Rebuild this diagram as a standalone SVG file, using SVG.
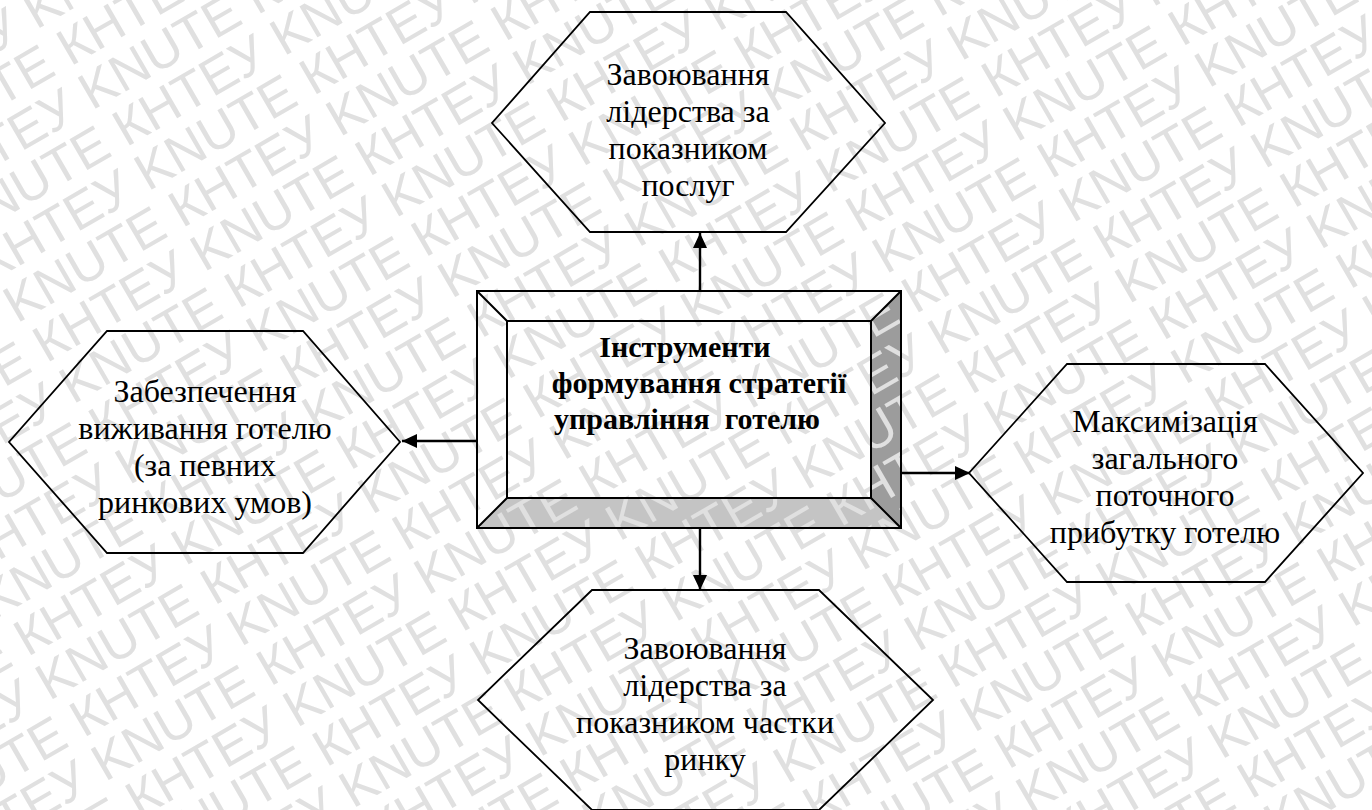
<svg xmlns="http://www.w3.org/2000/svg" width="1372" height="810" viewBox="0 0 1372 810">
<style>
.wm{font-family:"Liberation Sans",Arial,sans-serif;font-size:52px;fill:#e0e0e0}
.hex{fill:none;stroke:#000;stroke-width:1.8}
.t{font-family:"Liberation Serif","Times New Roman",serif;font-size:32px;fill:#000;text-anchor:middle}
.tb{font-family:"Liberation Serif","Times New Roman",serif;font-size:30px;font-weight:bold;fill:#000;text-anchor:middle}
.edge{stroke:#000;stroke-width:2.4;fill:none;marker-end:url(#ah)}
.bx{stroke:#000;stroke-width:2;stroke-linejoin:miter}
</style>
<defs>
<marker id="ah" markerUnits="userSpaceOnUse" markerWidth="16" markerHeight="14" refX="15" refY="7" orient="auto">
<path d="M0,0 L15,7 L0,14 Z" fill="#000"/>
</marker>
</defs>
<rect x="0" y="0" width="1372" height="810" fill="#fff"/>
<g id="center-bevel-fill">
<polygon points="901,291 901,528 871,498 871,321" fill="#9c9c9c"/>
<polygon points="477,528 901,528 871,498 507,498" fill="#c4c4c4"/>
</g>
<g id="watermark" transform="rotate(-30)">
<text class="wm" x="-916" y="-5">KNUTE КНТЕУ KNUTE КНТЕУ KNUTE КНТЕУ KNUTE КНТЕУ KNUTE КНТЕУ KNUTE КНТЕУ KNUTE КНТЕУ</text>
<text class="wm" x="-1101" y="44">KNUTE КНТЕУ KNUTE КНТЕУ KNUTE КНТЕУ KNUTE КНТЕУ KNUTE КНТЕУ KNUTE КНТЕУ KNUTE КНТЕУ</text>
<text class="wm" x="-908" y="93">KNUTE КНТЕУ KNUTE КНТЕУ KNUTE КНТЕУ KNUTE КНТЕУ KNUTE КНТЕУ KNUTE КНТЕУ KNUTE КНТЕУ</text>
<text class="wm" x="-1093" y="142">KNUTE КНТЕУ KNUTE КНТЕУ KNUTE КНТЕУ KNUTE КНТЕУ KNUTE КНТЕУ KNUTE КНТЕУ KNUTE КНТЕУ</text>
<text class="wm" x="-900" y="191">KNUTE КНТЕУ KNUTE КНТЕУ KNUTE КНТЕУ KNUTE КНТЕУ KNUTE КНТЕУ KNUTE КНТЕУ KNUTE КНТЕУ</text>
<text class="wm" x="-1085" y="240">KNUTE КНТЕУ KNUTE КНТЕУ KNUTE КНТЕУ KNUTE КНТЕУ KNUTE КНТЕУ KNUTE КНТЕУ KNUTE КНТЕУ</text>
<text class="wm" x="-892" y="289">KNUTE КНТЕУ KNUTE КНТЕУ KNUTE КНТЕУ KNUTE КНТЕУ KNUTE КНТЕУ KNUTE КНТЕУ KNUTE КНТЕУ</text>
<text class="wm" x="-1077" y="338">KNUTE КНТЕУ KNUTE КНТЕУ KNUTE КНТЕУ KNUTE КНТЕУ KNUTE КНТЕУ KNUTE КНТЕУ KNUTE КНТЕУ</text>
<text class="wm" x="-884" y="387">KNUTE КНТЕУ KNUTE КНТЕУ KNUTE КНТЕУ KNUTE КНТЕУ KNUTE КНТЕУ KNUTE КНТЕУ KNUTE КНТЕУ</text>
<text class="wm" x="-1069" y="436">KNUTE КНТЕУ KNUTE КНТЕУ KNUTE КНТЕУ KNUTE КНТЕУ KNUTE КНТЕУ KNUTE КНТЕУ KNUTE КНТЕУ</text>
<text class="wm" x="-876" y="485">KNUTE КНТЕУ KNUTE КНТЕУ KNUTE КНТЕУ KNUTE КНТЕУ KNUTE КНТЕУ KNUTE КНТЕУ KNUTE КНТЕУ</text>
<text class="wm" x="-1061" y="534">KNUTE КНТЕУ KNUTE КНТЕУ KNUTE КНТЕУ KNUTE КНТЕУ KNUTE КНТЕУ KNUTE КНТЕУ KNUTE КНТЕУ</text>
<text class="wm" x="-868" y="583">KNUTE КНТЕУ KNUTE КНТЕУ KNUTE КНТЕУ KNUTE КНТЕУ KNUTE КНТЕУ KNUTE КНТЕУ KNUTE КНТЕУ</text>
<text class="wm" x="-1053" y="632">KNUTE КНТЕУ KNUTE КНТЕУ KNUTE КНТЕУ KNUTE КНТЕУ KNUTE КНТЕУ KNUTE КНТЕУ KNUTE КНТЕУ</text>
<text class="wm" x="-860" y="681">KNUTE КНТЕУ KNUTE КНТЕУ KNUTE КНТЕУ KNUTE КНТЕУ KNUTE КНТЕУ KNUTE КНТЕУ KNUTE КНТЕУ</text>
<text class="wm" x="-1045" y="730">KNUTE КНТЕУ KNUTE КНТЕУ KNUTE КНТЕУ KNUTE КНТЕУ KNUTE КНТЕУ KNUTE КНТЕУ KNUTE КНТЕУ</text>
<text class="wm" x="-852" y="779">KNUTE КНТЕУ KNUTE КНТЕУ KNUTE КНТЕУ KNUTE КНТЕУ KNUTE КНТЕУ KNUTE КНТЕУ KNUTE КНТЕУ</text>
<text class="wm" x="-1037" y="828">KNUTE КНТЕУ KNUTE КНТЕУ KNUTE КНТЕУ KNUTE КНТЕУ KNUTE КНТЕУ KNUTE КНТЕУ KNUTE КНТЕУ</text>
<text class="wm" x="-844" y="877">KNUTE КНТЕУ KNUTE КНТЕУ KNUTE КНТЕУ KNUTE КНТЕУ KNUTE КНТЕУ KNUTE КНТЕУ KNUTE КНТЕУ</text>
<text class="wm" x="-1029" y="926">KNUTE КНТЕУ KNUTE КНТЕУ KNUTE КНТЕУ KNUTE КНТЕУ KNUTE КНТЕУ KNUTE КНТЕУ KNUTE КНТЕУ</text>
<text class="wm" x="-836" y="975">KNUTE КНТЕУ KNUTE КНТЕУ KNUTE КНТЕУ KNUTE КНТЕУ KNUTE КНТЕУ KNUTE КНТЕУ KNUTE КНТЕУ</text>
<text class="wm" x="-1021" y="1024">KNUTE КНТЕУ KNUTE КНТЕУ KNUTE КНТЕУ KNUTE КНТЕУ KNUTE КНТЕУ KNUTE КНТЕУ KNUTE КНТЕУ</text>
<text class="wm" x="-828" y="1073">KNUTE КНТЕУ KNUTE КНТЕУ KNUTE КНТЕУ KNUTE КНТЕУ KNUTE КНТЕУ KNUTE КНТЕУ KNUTE КНТЕУ</text>
<text class="wm" x="-1013" y="1122">KNUTE КНТЕУ KNUTE КНТЕУ KNUTE КНТЕУ KNUTE КНТЕУ KNUTE КНТЕУ KNUTE КНТЕУ KNUTE КНТЕУ</text>
<text class="wm" x="-820" y="1171">KNUTE КНТЕУ KNUTE КНТЕУ KNUTE КНТЕУ KNUTE КНТЕУ KNUTE КНТЕУ KNUTE КНТЕУ KNUTE КНТЕУ</text>
<text class="wm" x="-1005" y="1220">KNUTE КНТЕУ KNUTE КНТЕУ KNUTE КНТЕУ KNUTE КНТЕУ KNUTE КНТЕУ KNUTE КНТЕУ KNUTE КНТЕУ</text>
<text class="wm" x="-812" y="1269">KNUTE КНТЕУ KNUTE КНТЕУ KNUTE КНТЕУ KNUTE КНТЕУ KNUTE КНТЕУ KNUTE КНТЕУ KNUTE КНТЕУ</text>
<text class="wm" x="-997" y="1318">KNUTE КНТЕУ KNUTE КНТЕУ KNUTE КНТЕУ KNUTE КНТЕУ KNUTE КНТЕУ KNUTE КНТЕУ KNUTE КНТЕУ</text>
<text class="wm" x="-804" y="1367">KNUTE КНТЕУ KNUTE КНТЕУ KNUTE КНТЕУ KNUTE КНТЕУ KNUTE КНТЕУ KNUTE КНТЕУ KNUTE КНТЕУ</text>
</g>
<g id="connectors">
<line class="edge" x1="700" y1="291" x2="700" y2="233"/>
<line class="edge" x1="700" y1="528" x2="700" y2="590"/>
<line class="edge" x1="477" y1="441" x2="402" y2="441"/>
<line class="edge" x1="901" y1="473" x2="970" y2="473"/>
</g>
<g id="node-center">
<rect class="bx" x="477" y="291" width="424" height="237" fill="none"/>
<rect class="bx" x="507" y="321" width="364" height="177" fill="none"/>
<path class="bx" d="M477,291 L507,321 M901,291 L871,321 M477,528 L507,498 M901,528 L871,498" fill="none"/>
<text class="tb" x="685" y="357">Інструменти</text>
<text class="tb" x="699" y="393">формування стратегії</text>
<text class="tb" x="687" y="429" xml:space="preserve">управління  готелю</text>
</g>
<g id="node-top">
<polygon class="hex" points="590,12 786,12 885,123 786,232 590,232 492,123"/>
<text class="t" x="688" y="85">Завоювання</text>
<text class="t" x="688" y="122">лідерства за</text>
<text class="t" x="688" y="159">показником</text>
<text class="t" x="688" y="196">послуг</text>
</g>
<g id="node-left">
<polygon class="hex" points="107,331 303,331 400,442 303,553 107,553 9,442"/>
<text class="t" x="205" y="402">Забезпечення</text>
<text class="t" x="205" y="439">виживання готелю</text>
<text class="t" x="205" y="476">(за певних</text>
<text class="t" x="205" y="513">ринкових умов)</text>
</g>
<g id="node-right">
<polygon class="hex" points="1067,364 1265,364 1363,473 1265,582 1067,582 969,473"/>
<text class="t" x="1165" y="432">Максимізація</text>
<text class="t" x="1165" y="469">загального</text>
<text class="t" x="1165" y="506">поточного</text>
<text class="t" x="1165" y="543">прибутку готелю</text>
</g>
<g id="node-bottom">
<polygon class="hex" points="592,590 819,590 933,700 819,810 592,810 478,700"/>
<text class="t" x="705" y="659">Завоювання</text>
<text class="t" x="705" y="696">лідерства за</text>
<text class="t" x="705" y="733">показником частки</text>
<text class="t" x="705" y="770">ринку</text>
</g>
</svg>
